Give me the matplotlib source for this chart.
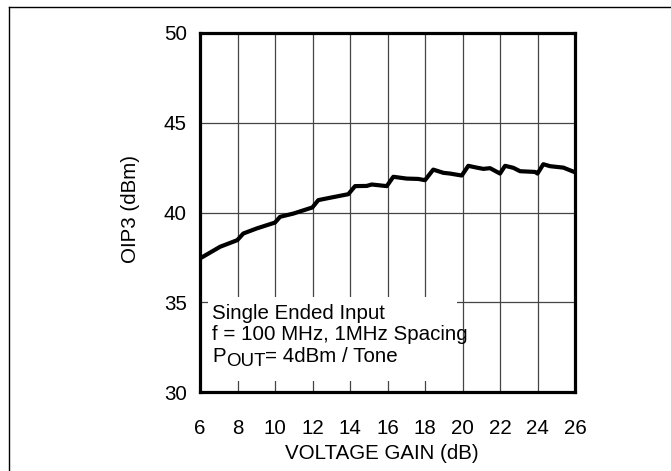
import matplotlib
matplotlib.use("Agg")
import matplotlib.pyplot as plt
from matplotlib.patches import Rectangle
from matplotlib.lines import Line2D

plt.rcParams['font.family'] = ['Liberation Sans', 'DejaVu Sans']

gain_db = [6.0, 7.07, 7.99, 8.31, 9.02, 10.0, 10.27, 10.98, 11.99, 12.31, 12.93,
           13.91, 14.27, 14.89, 15.16, 15.96, 16.31, 17.02, 17.64, 18.0, 18.44,
           18.98, 19.33, 19.96, 20.31, 20.76, 21.11, 21.47, 22.0, 22.27, 22.71,
           23.07, 23.87, 24.0, 24.31, 24.67, 25.38, 26.0]
oip3_dbm = [37.44, 38.09, 38.46, 38.83, 39.11, 39.44, 39.76, 39.94, 40.28, 40.69, 40.82,
            41.02, 41.47, 41.48, 41.56, 41.47, 41.99, 41.89, 41.87, 41.80, 42.39,
            42.21, 42.17, 42.06, 42.60, 42.50, 42.43, 42.47, 42.17, 42.60, 42.49,
            42.30, 42.26, 42.17, 42.69, 42.58, 42.50, 42.24]
x_ticks = [6, 8, 10, 12, 14, 16, 18, 20, 22, 24, 26]
y_ticks = [30, 35, 40, 45, 50]
note_lines = ["Single Ended Input", "f = 100 MHz, 1MHz Spacing"]

W, H = 671, 471
fig = plt.figure(figsize=(W / 100, H / 100), dpi=100)
L, R, T, B = 200, 575, 33, 392
ax = fig.add_axes([L / W, 1 - B / H, (R - L) / W, (B - T) / H])

fs = 14.8
ax.set_xlim(6, 26)
ax.set_ylim(30, 50)
ax.set_xticks(x_ticks)
ax.set_yticks(y_ticks)
ax.tick_params(length=0, labelsize=fs, colors='black')
ax.tick_params(axis='x', pad=19.5)
ax.tick_params(axis='y', pad=9.4)
ax.grid(True, color='#444444', linewidth=0.9)
ax.set_axisbelow(True)
for s in ax.spines.values():
    s.set_linewidth(2.3)
    s.set_color('black')

ax.plot(gain_db, oip3_dbm, color='black', linewidth=3.0, solid_joinstyle='round',
        zorder=3)

# white note box covering grid
ax.add_patch(Rectangle((6.43, 30.63), 19.69 - 6.43, 35.31 - 30.63,
                       facecolor='white', edgecolor='none', zorder=2))

fig.text(212 / W, 1 - 319 / H, note_lines[0], fontsize=fs, va='baseline', ha='left')
fig.text(212 / W, 1 - 340.5 / H, note_lines[1], fontsize=fs, va='baseline', ha='left')
tp = fig.text(212 / W, 1 - 362 / H, "P", fontsize=fs, va='baseline', ha='left')
fig.canvas.draw()
bb = tp.get_window_extent()
to = fig.text(bb.x1 / W, 1 - 365.5 / H, "OUT", fontsize=13.5, va='baseline', ha='left')
fig.canvas.draw()
bb2 = to.get_window_extent()
fig.text(bb2.x1 / W, 1 - 362 / H, "= 4dBm / Tone", fontsize=fs, va='baseline', ha='left')

fig.text(381.5 / W, 1 - 459 / H, "VOLTAGE GAIN (dB)", fontsize=fs, va='baseline', ha='center')
fig.text(130 / W, 1 - 209 / H, "OIP3 (dBm)", fontsize=fs, va='center', ha='center',
         rotation=90)

# outer frame lines (left and top)
fig.add_artist(Line2D([8.5 / W, 8.5 / W], [0, 1 - 6.5 / H], color='black',
                      linewidth=1.0, transform=fig.transFigure))
fig.add_artist(Line2D([8.5 / W, 1], [1 - 6.5 / H, 1 - 6.5 / H], color='black',
                      linewidth=1.0, transform=fig.transFigure))

fig.savefig('out.png', dpi=100)
